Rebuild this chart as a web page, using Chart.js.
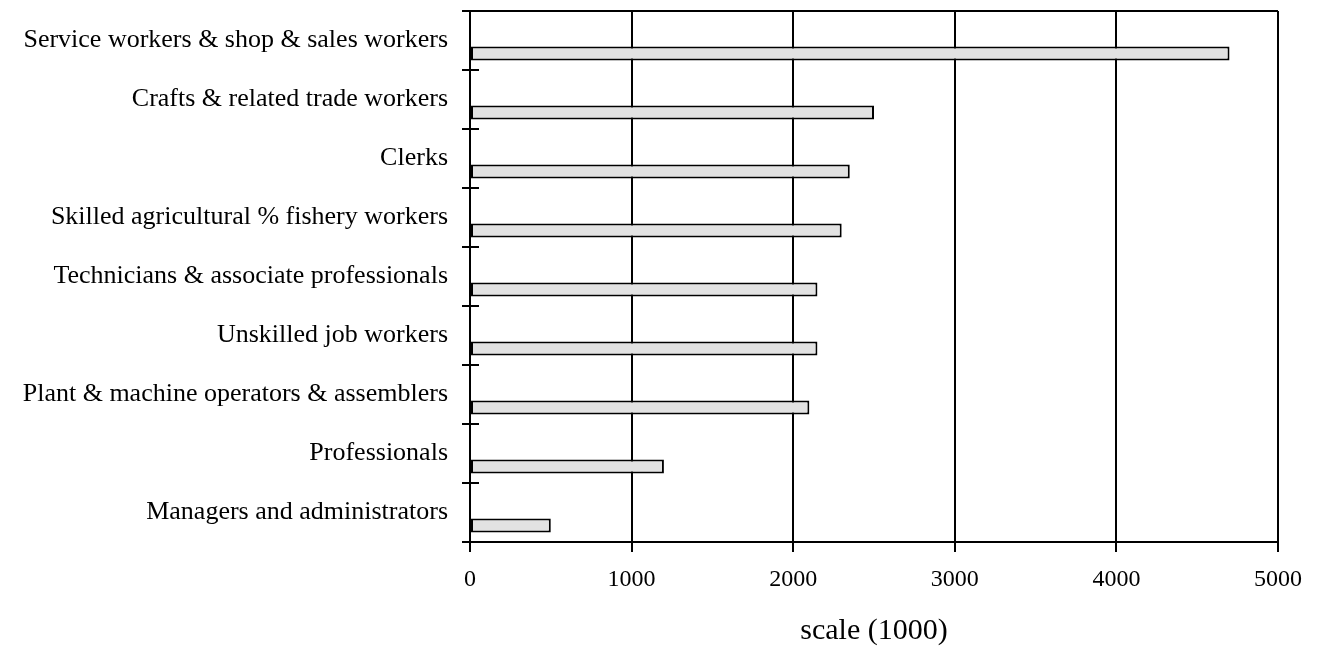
<!DOCTYPE html>
<html>
<head>
<meta charset="utf-8">
<script src="https://cdn.jsdelivr.net/npm/chart.js@4.4.0/dist/chart.umd.min.js"></script>
<style>
  html, body { margin: 0; padding: 0; background: #fff; }
</style>
</head>
<body>
<canvas id="occChart" width="1320" height="649"></canvas>
<script>
// occupation groups, top to bottom
const occupations = [
    'Service workers & shop & sales workers',
    'Crafts & related trade workers',
    'Clerks',
    'Skilled agricultural % fishery workers',
    'Technicians & associate professionals',
    'Unskilled job workers',
    'Plant & machine operators & assemblers',
    'Professionals',
    'Managers and administrators'
];
// number of workers, in thousands
const workers = [4700, 2500, 2350, 2300, 2150, 2150, 2100, 1200, 500];
// empty slot so the bar sits in the lower half of each row
const spacer = occupations.map(() => null);
const xMin = 0;
const xMax = 5000;
const xStep = 1000;
const xTitle = 'scale (1000)';

const serif = 'Liberation Serif, Times New Roman, serif';

// short marks crossing the left axis between rows + the top edge of the frame
const frameMarks = {
    id: 'frameMarks',
    afterDraw(chart) {
        const { ctx, chartArea, scales: { y } } = chart;
        ctx.save();
        ctx.strokeStyle = '#000';
        ctx.lineWidth = 2;
        ctx.beginPath();
        ctx.moveTo(chartArea.left - 8, chartArea.top);
        ctx.lineTo(chartArea.right, chartArea.top);
        for (let i = 0; i <= occupations.length; i++) {
            const py = Math.round(y.getPixelForValue(i - 0.5));
            ctx.moveTo(chartArea.left - 8, py);
            ctx.lineTo(chartArea.left + 9, py);
        }
        ctx.stroke();
        ctx.restore();
    }
};

const ctx = document.getElementById('occChart').getContext('2d');
const occChart = new Chart(ctx, {
    type: 'bar',
    data: {
        labels: occupations,
        datasets: [
            {
                label: 'spacer',
                data: spacer
            },
            {
                label: 'Workers',
                data: workers,
                backgroundColor: '#e2e2e2',
                borderColor: '#000',
                borderWidth: 2,
                borderSkipped: false
            }
        ]
    },
    options: {
        indexAxis: 'y',
        responsive: false,
        animation: false,
        devicePixelRatio: 1,
        categoryPercentage: 0.88,
        barPercentage: 0.54,
        layout: {
            padding: { top: 11, right: 42, left: 0, bottom: 0 }
        },
        plugins: {
            legend: { display: false },
            tooltip: { enabled: false }
        },
        scales: {
            x: {
                min: xMin,
                max: xMax,
                ticks: {
                    stepSize: xStep,
                    color: '#000',
                    padding: 13,
                    font: { family: serif, size: 24 },
                    callback: v => String(v)
                },
                grid: {
                    color: '#000',
                    lineWidth: 2,
                    tickLength: 10
                },
                border: { color: '#000', width: 2 },
                title: {
                    display: true,
                    text: xTitle,
                    color: '#000',
                    font: { family: serif, size: 30 },
                    padding: { top: 4, bottom: 0 }
                },
                afterFit: scale => {
                    scale.height = 107;
                    scale.paddingLeft = 0;
                    scale.paddingRight = 0;
                }
            },
            y: {
                ticks: {
                    color: '#000',
                    padding: 22,
                    font: { family: serif, size: 26 }
                },
                grid: { display: false, drawTicks: false, tickLength: 0 },
                border: { display: true, color: '#000', width: 2 },
                afterFit: scale => {
                    scale.width = 470;
                    scale.paddingTop = 0;
                    scale.paddingBottom = 0;
                }
            }
        }
    },
    plugins: [frameMarks]
});
</script>
</body>
</html>
